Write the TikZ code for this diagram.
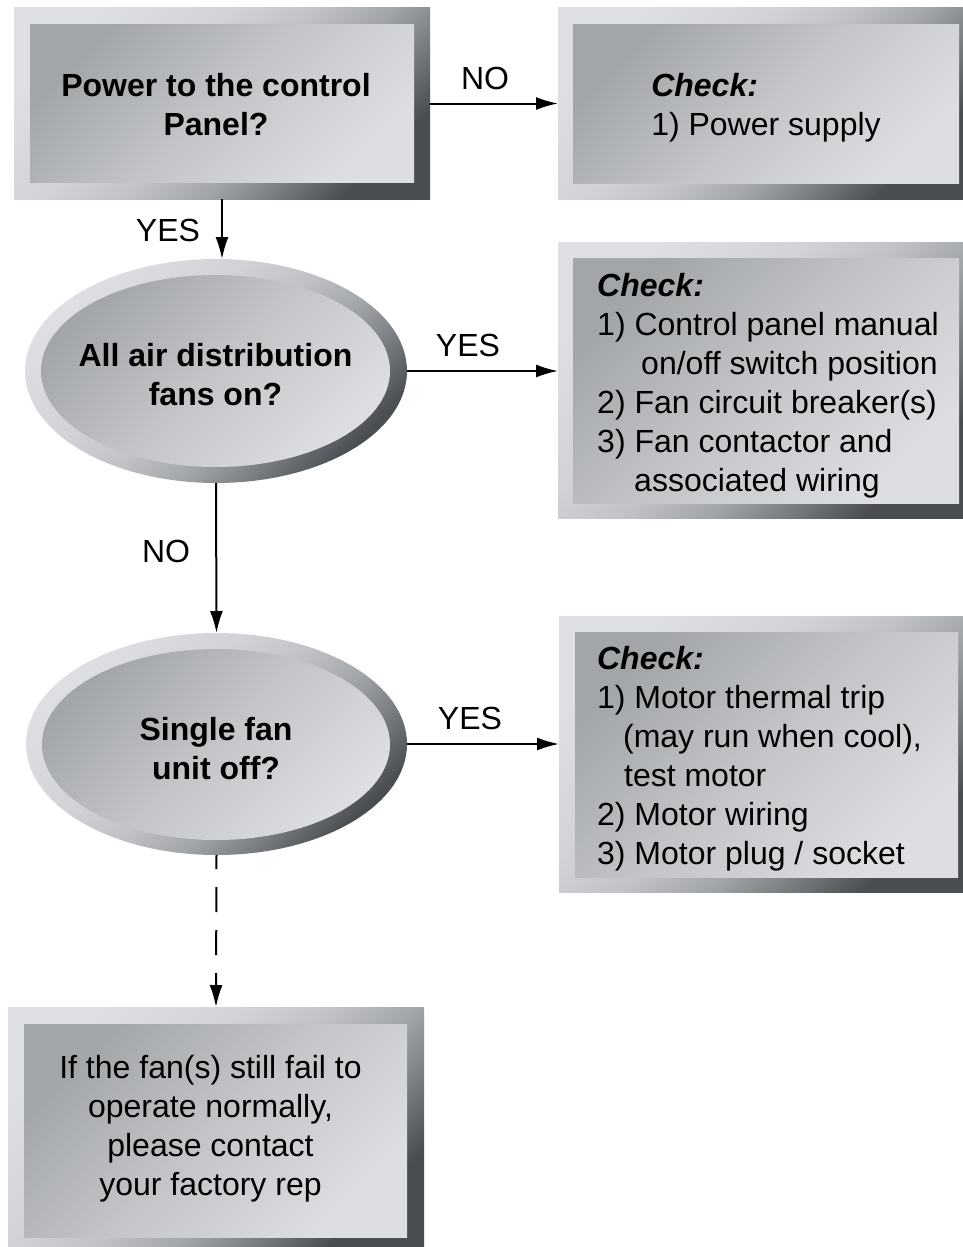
\documentclass[tikz,border=0pt]{standalone}
\usepackage{fontspec}
\setmainfont{Liberation Sans}
\usetikzlibrary{shapes.geometric,arrows.meta}

\definecolor{rimdark}{HTML}{4A4E52}
\definecolor{rimtwo}{HTML}{787B7F}
\definecolor{rimthree}{HTML}{A2A5A8}
\definecolor{rimfour}{HTML}{C0C2C5}
\definecolor{rimfive}{HTML}{D1D3D6}
\definecolor{rimlight}{HTML}{DEDFE2}
\definecolor{facelight}{HTML}{DDDEE1}
\definecolor{facemid}{HTML}{C3C5C8}
\definecolor{facedark}{HTML}{A3A6A9}

\pgfdeclareverticalshading{rimshade}{100bp}{color(0bp)=(rimdark); color(25bp)=(rimdark); color(33bp)=(rimtwo); color(41bp)=(rimthree); color(50bp)=(rimfour); color(60bp)=(rimfive); color(75bp)=(rimlight); color(100bp)=(rimlight)}
\pgfdeclareverticalshading{faceshade}{100bp}{color(0bp)=(facelight); color(25bp)=(facelight); color(50bp)=(facemid); color(75bp)=(facedark); color(100bp)=(facedark)}

\newcommand\flowfont{\fontsize{32}{39}\selectfont}

\begin{document}
\begin{tikzpicture}[x=1pt,y=-1pt,
		font=\flowfont,
		rim/.style={rectangle,inner sep=0pt,outer sep=0pt,shade,shading=rimshade,shading angle=45},
		face/.style={rectangle,inner sep=0pt,outer sep=0pt,shade,shading=faceshade,shading angle=45},
		rimdisc/.style={rim,ellipse},
		facedisc/.style={face,ellipse},
		question/.style={font=\flowfont\bfseries,align=center,inner sep=0pt},
		checklist/.style={align=left,inner sep=0pt},
		flow/.style={line width=2pt,-{Latex[length=22pt,width=13pt]}},
		answer/.style={inner sep=0pt} ]
	\useasboundingbox (0,0) rectangle (963,1247);

	% power question and its check box
	\node [rim,minimum width=416pt,minimum height=191pt] (powero) at (222,103.5) {};
	\node [face,minimum width=384pt,minimum height=157pt] (poweri) at (222,103.5) {};
	\node [question] (powertext) at (216,104.5) {Power to the control\\Panel?};
	\node [rim,minimum width=405pt,minimum height=191pt] (supplyo) at (760.5,103.5) {};
	\node [face,minimum width=386pt,minimum height=158pt] (supplyi) at (766,104) {};
	\node [checklist] (supplytext) at (766,108) {\textbf{\textit{Check:}}\\1) Power supply};

	% all fans question and its check box
	\node [rimdisc,minimum width=382pt,minimum height=224pt] (allfanso) at (216,371) {};
	\node [facedisc,minimum width=349pt,minimum height=192pt] (allfansi) at (215.5,371) {};
	\node [question] (allfanstext) at (215.5,374.5) {All air distribution\\fans on?};
	\node [rim,minimum width=405pt,minimum height=276pt] (switcho) at (760.5,380) {};
	\node [face,minimum width=386pt,minimum height=245pt] (switchi) at (766,380.5) {};
	\node [checklist] (switchtext) at (768,385.5)
		{\textbf{\textit{Check:}}\\1) Control panel manual\\\hspace*{44pt}on/off switch position\\
		 2) Fan circuit breaker(s)\\3) Fan contactor and\\\hspace*{37pt}associated wiring};

	% single fan question and its check box
	\node [rimdisc,minimum width=381pt,minimum height=222pt] (singleo) at (216.5,744) {};
	\node [facedisc,minimum width=348pt,minimum height=191pt] (singlei) at (216,744.5) {};
	\node [question] (singletext) at (216,749) {Single fan\\unit off?};
	\node [rim,minimum width=404pt,minimum height=276pt] (motoro) at (761,754) {};
	\node [face,minimum width=383pt,minimum height=245pt] (motori) at (766.5,754.5) {};
	\node [checklist] (motortext) at (759.5,759)
		{\textbf{\textit{Check:}}\\1) Motor thermal trip\\\hspace*{26pt}(may run when cool),\\
		 \hspace*{27pt}test motor\\2) Motor wiring\\3) Motor plug / socket};

	% last resort
	\node [rim,minimum width=416pt,minimum height=240pt] (factoryo) at (216,1127) {};
	\node [face,minimum width=383pt,minimum height=213pt] (factoryi) at (215.5,1130.5) {};
	\node [align=center,inner sep=0pt] (factorytext) at (210.5,1128.5)
		{If the fan(s) still fail to\\operate normally,\\please contact\\your factory rep};

	\draw [flow] (powero.east) -- (supplyo.west);
	\draw [flow] (powero.south) -- (powero.south |- allfanso.north);
	\draw [flow] (allfanso.east) -- (allfanso.east -| switcho.west);
	\draw [flow] (allfanso.south) -- (singleo.north);
	\draw [flow] (singleo.east) -- (singleo.east -| motoro.west);
	\draw [flow,dash pattern=on 25pt off 18pt,dash phase=11pt] (singleo.south) -- (factoryo.north);

	\node [answer] (nopower) at (485,78) {NO};
	\node [answer] (yespower) at (168,230) {YES};
	\node [answer] (yesall) at (468,345) {YES};
	\node [answer] (noall) at (166,551) {NO};
	\node [answer] (yessingle) at (470,718) {YES};
\end{tikzpicture}
\end{document}
